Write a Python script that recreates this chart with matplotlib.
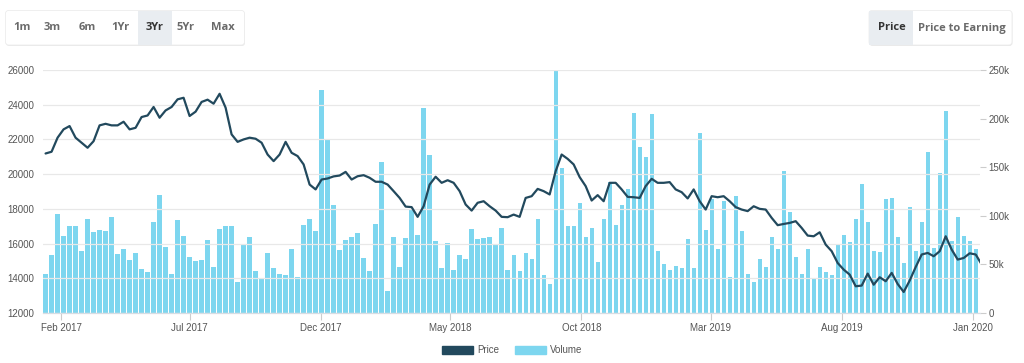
import numpy as np
import pandas as pd
import matplotlib
matplotlib.use("Agg")
import matplotlib.pyplot as plt
import matplotlib.dates as mdates
from matplotlib.patches import FancyBboxPatch, Patch
from matplotlib.ticker import FuncFormatter

# weekly data, first week starting mid Jan 2017
start_date = "2017-01-14"

volume_k = [
    40.5, 59.8, 101.6, 79.7, 90.0, 90.0, 63.9, 96.5, 83.8, 85.5,
    84.1, 99.2, 60.8, 65.9, 54.9, 62.2, 45.7, 42.6, 93.8, 121.6,
    67.7, 40.2, 95.5, 79.3, 57.3, 53.9, 54.9, 75.2, 47.4, 86.9,
    89.3, 89.3, 31.9, 70.1, 78.0, 42.9, 35.4, 62.2, 46.0, 40.2,
    38.8, 65.6, 36.7, 91.0, 97.2, 84.1, 229.4, 177.5, 110.6, 64.6,
    74.9, 78.6, 82.8, 57.0, 43.3, 92.0, 154.9, 22.7, 78.0, 47.7,
    77.3, 106.5, 80.7, 210.9, 162.4, 74.5, 46.4, 72.1, 44.0, 59.4,
    56.0, 86.5, 76.6, 76.9, 78.6, 69.7, 87.6, 44.6, 60.1, 42.9,
    62.2, 55.3, 96.2, 38.8, 30.2, 249.0, 149.4, 89.6, 89.6, 113.0,
    78.0, 87.2, 52.5, 96.8, 134.6, 90.7, 111.6, 127.7, 206.0, 171.0,
    160.4, 204.3, 63.5, 50.8, 44.6, 48.4, 46.7, 76.6, 46.4, 184.8,
    85.2, 117.4, 65.6, 115.0, 36.7, 120.2, 84.1, 40.5, 31.6, 55.6,
    47.7, 78.0, 65.9, 146.3, 104.0, 57.7, 40.5, 66.3, 36.4, 47.7,
    42.2, 39.5, 69.7, 80.4, 73.1, 97.2, 132.6, 94.1, 63.5, 62.5,
    116.8, 118.1, 78.0, 51.5, 109.2, 63.5, 93.4, 165.9, 67.0, 143.9,
    207.4, 74.5, 98.9, 79.7, 73.8, 65.6, 32.6,
]

price = [
    21190, 21290, 22100, 22580, 22770, 22100, 21810, 21520, 21900, 22810,
    22900, 22810, 22810, 23020, 22580, 22670, 23290, 23380, 23870, 23250,
    23670, 23870, 24310, 24400, 23350, 23600, 24160, 24290, 24060, 24630,
    23830, 22290, 21860, 22000, 22100, 22040, 21810, 21130, 20750, 21130,
    21860, 21230, 21040, 20560, 19400, 19120, 19690, 19750, 19870, 19920,
    20130, 19690, 19880, 19940, 19790, 19560, 19560, 19400, 19020, 18630,
    18130, 18100, 17540, 18150, 19400, 19850, 19500, 19650, 19500, 19020,
    18250, 17900, 18350, 18440, 18150, 17900, 17540, 17520, 17670, 17540,
    18630, 18730, 19150, 19020, 18830, 20170, 21130, 20880, 20560, 19830,
    19310, 18480, 18790, 18440, 19500, 19500, 19120, 18690, 18670, 18630,
    19310, 19730, 19500, 19500, 19540, 19120, 18960, 18600, 19120, 18440,
    17960, 18730, 18670, 18730, 18440, 18100, 17960, 17870, 18150, 18000,
    17960, 17480, 17060, 17130, 17190, 17290, 16900, 16460, 16420, 16650,
    15940, 15560, 14880, 14500, 14210, 13540, 13580, 14270, 13630, 14060,
    13830, 14310, 13670, 13210, 13870, 14650, 15370, 15460, 15270, 15560,
    16420, 15650, 15080, 15170, 15440, 15370, 14790,
]

tick_dates = ["2017-02-01", "2017-07-01", "2017-12-01", "2018-05-01",
              "2018-10-01", "2019-03-01", "2019-08-01", "2020-01-01"]
tick_labels = ["Feb 2017", "Jul 2017", "Dec 2017", "May 2018",
               "Oct 2018", "Mar 2019", "Aug 2019", "Jan 2020"]

range_buttons = ["1m", "3m", "6m", "1Yr", "3Yr", "5Yr", "Max"]
active_range = "3Yr"
view_buttons = ["Price", "Price to Earning"]
active_view = "Price"

LINE_COLOR = "#22495d"
BAR_COLOR = "#7dd6ef"
GRID_COLOR = "#e8e8e8"
TEXT_COLOR = "#555555"

plt.rcParams["font.family"] = ["Liberation Sans", "DejaVu Sans"]

dates = pd.date_range(start_date, periods=len(volume_k), freq="7D")

fig = plt.figure(figsize=(10.24, 3.63), dpi=100)
W, H = 1024, 363
ax = fig.add_axes([43 / W, 1 - 313 / H, (980 - 43) / W, (313 - 70) / H])
ax2 = ax.twinx()

# volume on right axis, drawn behind the price line
ax2.bar(dates, np.array(volume_k) * 1000, width=5.0, color=BAR_COLOR, zorder=2)
ax2.set_ylim(0, 250000)
ax.set_ylim(12000, 26000)
ax.set_zorder(ax2.get_zorder() + 1)
ax.patch.set_visible(False)
ax.plot(dates, price, color=LINE_COLOR, lw=1.6, zorder=3,
        solid_joinstyle="round", solid_capstyle="round")

ax.set_xlim(pd.Timestamp("2017-01-11"), pd.Timestamp("2020-01-09"))

ax.set_yticks(np.arange(12000, 26001, 2000))
ax.yaxis.grid(True, color=GRID_COLOR, lw=0.9)
ax.set_axisbelow(True)
ax.tick_params(axis="y", length=0, labelsize=7, labelcolor=TEXT_COLOR, pad=6)

ax2.set_yticks(np.arange(0, 250001, 50000))
ax2.yaxis.set_major_formatter(FuncFormatter(lambda v, p: "0" if v == 0 else f"{int(v / 1000)}k"))
ax2.tick_params(axis="y", length=4, width=0.8, color="#cccccc", labelsize=7,
                labelcolor=TEXT_COLOR, pad=2)

ax.set_xticks([pd.Timestamp(d) for d in tick_dates])
ax.set_xticklabels(tick_labels)
ax.tick_params(axis="x", length=5, width=0.8, color="#cccccc", labelsize=7,
               labelcolor=TEXT_COLOR, pad=2)

for a in (ax, ax2):
    for s in a.spines.values():
        s.set_visible(False)
ax.spines["bottom"].set_visible(True)
ax.spines["bottom"].set_color("#d8dde3")
ax.spines["bottom"].set_linewidth(0.9)
ax2.set_xlim(ax.get_xlim())

# legend at the bottom
handles = [Patch(color=LINE_COLOR, label="Price"), Patch(color=BAR_COLOR, label="Volume")]
fig.legend(handles=handles, loc="center", bbox_to_anchor=(0.5, 1 - 350 / H), ncol=2,
           frameon=False, fontsize=7, handlelength=3.2, handleheight=0.9,
           handletextpad=0.4, columnspacing=1.6, labelcolor=TEXT_COLOR)

# button bars on top, drawn in pixel coordinates
ov = fig.add_axes([0, 0, 1, 1])
ov.set_xlim(0, W)
ov.set_ylim(H, 0)
ov.axis("off")
ov.patch.set_visible(False)


def button_group(x0, x1, labels, centers, active, act_span):
    shadow = FancyBboxPatch((x0 + 0.5, 11.5), x1 - x0, 34.5, boxstyle="round,pad=0,rounding_size=3",
                            fc="#dddddd", ec="none", alpha=0.6)
    ov.add_patch(shadow)
    box = FancyBboxPatch((x0, 10.5), x1 - x0, 34.5, boxstyle="round,pad=0,rounding_size=3",
                         fc="white", ec="#ececec", lw=0.6)
    ov.add_patch(box)
    ov.add_patch(FancyBboxPatch((act_span[0], 10.5), act_span[1] - act_span[0], 34.5,
                                boxstyle="square,pad=0", fc="#e9edf1", ec="none"))
    for lab, cx in zip(labels, centers):
        ov.text(cx, 28, lab, ha="center", va="center", fontsize=8,
                family=["Open Sans", "DejaVu Sans"], weight="bold",
                color="#333333" if lab == active else "#6a6a6a")


button_group(5.5, 244.5, range_buttons, [21.5, 52, 87, 120, 155, 186, 223],
             active_range, (138, 172))
button_group(869, 1012, view_buttons, [892, 962], active_view, (869, 913))

fig.savefig("out.png", dpi=100, facecolor="white")
